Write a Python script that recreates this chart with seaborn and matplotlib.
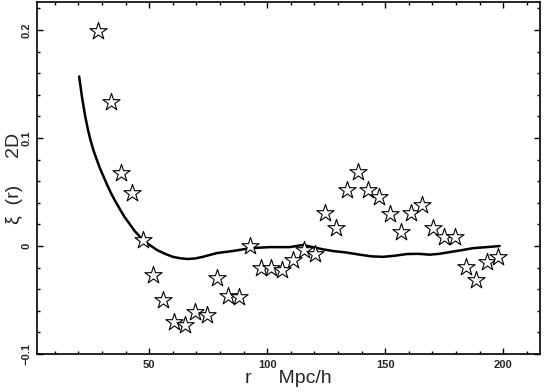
import matplotlib
matplotlib.use("Agg")
import matplotlib.pyplot as plt
import seaborn as sns
import pandas as pd
from matplotlib.ticker import MultipleLocator, FixedLocator, FixedFormatter

# measured correlation points (stars)
r_pts = [28.3, 33.7, 38.0, 42.7, 47.3, 51.6, 55.8, 60.7, 65.3, 69.6,
         74.4, 78.7, 83.3, 88.0, 92.7, 97.3, 101.6, 106.2, 110.9, 115.6,
         120.2, 124.5, 129.2, 133.8, 138.5, 142.8, 147.5, 152.1, 156.8, 161.0,
         165.7, 170.3, 175.0, 179.7, 184.3, 188.5, 193.2, 197.9]
xi_pts = [0.199, 0.133, 0.068, 0.049, 0.0056, -0.027, -0.050, -0.070, -0.073, -0.061,
          -0.064, -0.030, -0.046, -0.047, 0.000, -0.020, -0.020, -0.022, -0.013, -0.004,
          -0.007, 0.031, 0.017, 0.052, 0.069, 0.052, 0.045, 0.030, 0.013, 0.031,
          0.038, 0.017, 0.008, 0.008, -0.019, -0.031, -0.015, -0.010]

# model curve
r_line = [20.3, 21.5, 22.8, 24.0, 25.0, 26.3, 27.6, 29.1, 30.5, 32.1, 33.8, 35.5, 37.6,
          39.5, 41.5, 43.8, 46.1, 49.5, 53.3, 56.5, 60.0, 63.0, 66.4, 69.5, 72.7,
          78.7, 85.5, 92.7, 101.1, 109.6, 115.1, 119.3, 123.5, 127.8, 133.5, 139.2,
          144.0, 149.0, 154.0, 159.2, 164.0, 168.9, 173.0, 177.4, 182.0, 187.1,
          193.0, 198.5]
xi_line = [0.157, 0.138, 0.121, 0.108, 0.099, 0.089, 0.081, 0.072, 0.065, 0.057,
           0.049, 0.042, 0.034, 0.027, 0.021, 0.014, 0.0085, 0.002, -0.0037, -0.007,
           -0.010, -0.0113, -0.012, -0.0115, -0.010, -0.0065, -0.0046, -0.002, -0.001,
           -0.001, 0.001, -0.001, -0.003, -0.0046, -0.006, -0.008, -0.0095, -0.010,
           -0.009, -0.0074, -0.0072, -0.008, -0.0072, -0.0056, -0.004, -0.002, -0.001,
           0.0]

x_ticks = [50, 100, 150, 200]
x_ticklabels = ["50", "100", "150", "200"]
y_ticks = [-0.1, 0.0, 0.1, 0.2]
y_ticklabels = ["\u22120.1", "0", "0.1", "0.2"]

sns.set_style("ticks")
plt.rcParams["font.family"] = ["Liberation Sans", "DejaVu Sans"]

df_pts = pd.DataFrame({"r": r_pts, "xi": xi_pts})
df_line = pd.DataFrame({"r": r_line, "xi": xi_line})

fig = plt.figure(figsize=(5.45, 3.92), dpi=100)
ax = fig.add_axes([0.0673, 0.0969, 0.9235, 0.898])

sns.lineplot(data=df_line, x="r", y="xi", ax=ax, color="black", linewidth=1.8,
             sort=False, zorder=2)
sns.scatterplot(data=df_pts, x="r", y="xi", ax=ax, marker="*", s=170,
                facecolor="white", edgecolor="black", linewidth=0.8, zorder=3)

ax.set_xlim(2.3, 215.6)
ax.set_ylim(-0.1, 0.226)

ax.xaxis.set_major_locator(FixedLocator(x_ticks))
ax.xaxis.set_major_formatter(FixedFormatter(x_ticklabels))
ax.xaxis.set_minor_locator(MultipleLocator(10))
ax.yaxis.set_major_locator(FixedLocator(y_ticks))
ax.yaxis.set_major_formatter(FixedFormatter(y_ticklabels))
ax.yaxis.set_minor_locator(MultipleLocator(0.02))

ax.tick_params(which="both", direction="in", top=True, right=True,
               color="black", width=1.0)
ax.tick_params(which="major", length=4.5, labelsize=8, pad=4)
ax.tick_params(which="minor", length=2.5)
for lab in ax.get_xticklabels() + ax.get_yticklabels():
    lab.set_fontweight("bold")
for lab in ax.get_yticklabels():
    lab.set_rotation(90)
    lab.set_va("center")

for sp in ax.spines.values():
    sp.set_color("black")
    sp.set_linewidth(1.2)

ax.set_xlabel("r     Mpc/h", fontsize=14, labelpad=0)
ax.set_ylabel("\u03be  (r)     2D", fontsize=14, labelpad=-1)

fig.savefig("out.png", dpi=100, facecolor="white")
